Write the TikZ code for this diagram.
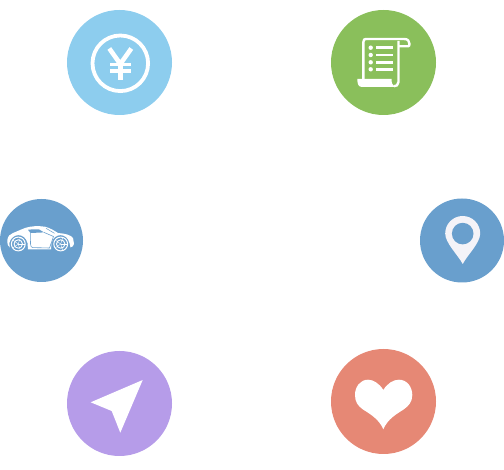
\documentclass[tikz,border=0pt]{standalone}
\definecolor{yuanblue}{HTML}{8DCDEE}
\definecolor{listgreen}{HTML}{8ABF5B}
\definecolor{mapblue}{HTML}{699FCD}
\definecolor{sendpurple}{HTML}{B69CE9}
\definecolor{heartred}{HTML}{E68875}
\definecolor{pinwhite}{HTML}{F4F3F8}
\tikzset{
  glyph/.style={draw=white,line width=#1},
  glyph/.default=1.5
}
\begin{document}
\begin{tikzpicture}[x=1pt,y=-1pt]
  \useasboundingbox (0,0) rectangle (504,470);

  % discs
  \foreach \cx/\cy/\r/\c in {119.5/62.5/52.5/yuanblue,383.5/62.5/52.5/listgreen,41.5/240.5/41.5/mapblue,462/240.5/42/mapblue,119.5/403.5/52.5/sendpurple,383.5/401.5/52.5/heartred} {
    \fill[\c] (\cx,\cy) circle (\r);
  }

  % yen
  \draw[glyph=3.8] (120.3,63.3) circle (27.8);
  \draw[glyph=4.6] (109.3,48.5) -- (120.3,64) -- (131.3,48.5);
  \draw[glyph=4.4] (120.3,64) -- (120.3,80);
  \foreach \y in {64.5,71} {
    \draw[glyph=3.6] (110,\y) -- (130.5,\y);
  }

  % scroll
  \draw[glyph=2.4,line join=round] (363.4,80) -- (363.4,42) .. controls (363.4,39.5) and (364.5,39) .. (366,39) -- (404,39) .. controls (408,39) and (409.5,41) .. (409.5,44) .. controls (409.5,45.5) and (409,46.3) .. (408,46.3) -- (398.5,46.3);
  \draw[glyph=2.4] (398.5,41) -- (398.5,82) .. controls (398.5,85) and (396,86.3) .. (394,86.3);
  \fill[white] (357.3,79) -- (391.5,79) .. controls (391.5,83) and (392.5,85.5) .. (395,87) -- (362,87) .. controls (358.5,87) and (357.3,84) .. (357.3,79) -- cycle;
  \foreach \y in {47.7,55,62.3,69.3} {
    \fill[white] (370.7,\y) circle (2.2);
    \draw[glyph=2.6] (376,\y) -- (392.7,\y);
  }

  % car
  \fill[white] (7.3,240) .. controls (8,236) and (10,234) .. (13,233) .. controls (18,231) and (21,229.5) .. (25,228) .. controls (31,226) and (38,225.7) .. (45,226.7) .. controls (50,228) and (54,230.5) .. (58,233) .. controls (65,233.5) and (71,235) .. (73,238) -- (74,244) .. controls (74,246) and (72,247) .. (70.5,247.5) -- (69.5,243) .. controls (67,232.5) and (54,232.5) .. (51.5,243) -- (51,249.5) -- (28,249.5) -- (27.5,243) .. controls (25,232.5) and (12,232.5) .. (9.3,243) -- (9.8,247.5) .. controls (8,247) and (7.3,244) .. cycle;
  \fill[mapblue] (28,229.8) .. controls (32,229.3) and (36,229.2) .. (39,229.4) -- (44,232.4) -- (30.5,233) -- cycle;
  \draw[mapblue,line width=.6] (30.3,233) -- (30.5,244) .. controls (30.5,246.5) and (31.5,247.6) .. (33,247.6) -- (49.5,248) -- (53.5,236.5) -- (44,232.4);
  \draw[mapblue,line width=.5] (46,228.3) -- (54.5,233.3);
  \foreach \wx in {18.3,60.7} {
    \draw[glyph=1] (\wx,244) circle (6.9);
    \draw[glyph=.9] (\wx,244) circle (4.2);
    \foreach \a in {0,72,144,216,288} {
      \draw[glyph=.4] (\wx,244) -- ++(\a:6.5);
    }
  }

  % pin
  \fill[pinwhite] (462.7,264) .. controls (458,255) and (445.2,243) .. (445.2,233.5) .. controls (445.2,223.8) and (453,216) .. (462.7,216) .. controls (472.4,216) and (480.2,223.8) .. (480.2,233.5) .. controls (480.2,243) and (467.4,255) .. (462.7,264) -- cycle;
  \fill[mapblue] (462.7,233.6) circle (10.8);

  % send
  \fill[white] (142.7,380) -- (90.7,402.3) -- (111.7,411) -- (120.3,432.7) -- cycle;

  % heart
  \fill[white] (383.3,390) .. controls (379,383) and (373,379.7) .. (368,379.7) .. controls (360,379.7) and (355,387) .. (355,395) .. controls (355,402) and (358,406) .. (363,409.5) .. controls (370,414) and (379,419) .. (383.3,429.3) .. controls (387.6,419) and (396.6,414) .. (403.6,409.5) .. controls (408.6,406) and (412.3,402) .. (412.3,395) .. controls (412.3,387) and (407,379.7) .. (399,379.7) .. controls (393.6,379.7) and (387.6,383) .. (383.3,390) -- cycle;
\end{tikzpicture}
\end{document}
